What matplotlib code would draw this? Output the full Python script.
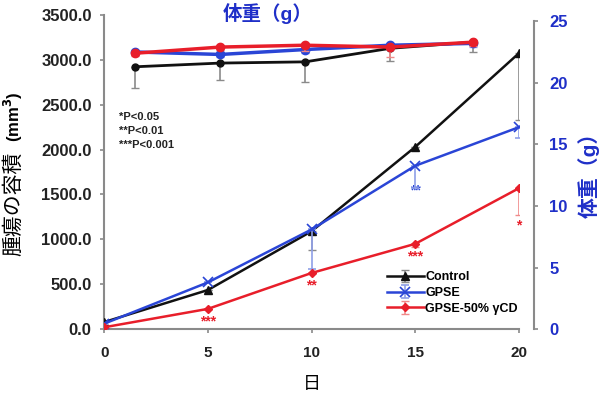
import numpy as np
import matplotlib
matplotlib.use("Agg")
import matplotlib.pyplot as plt

plt.rcParams['font.family'] = ['Liberation Sans', 'Noto Sans CJK JP', 'DejaVu Sans']

# tumor volume (mm3)
days = [0, 5, 10, 15, 20]
control_vol = [78, 435, 1090, 2030, 3075]
gpse_vol = [60, 520, 1110, 1820, 2250]
cd_vol = [20, 225, 625, 950, 1570]
control_err = [0, 0, 210, 0, 750]
gpse_err = [0, 0, 440, 250, 120]
cd_err = [0, 0, 0, 40, 300]

# body weight (g)
wdays = [1.5, 5.6, 9.7, 13.8, 17.8]
control_w = [21.3, 21.6, 21.7, 22.8, 23.3]
gpse_w = [22.5, 22.3, 22.7, 23.05, 23.2]
cd_w = [22.4, 22.9, 23.05, 22.9, 23.3]
control_werr = [1.7, 1.4, 1.6, 1.0, 0.8]
gpse_werr = [0.2, 0.2, 0.3, 0.3, 0.3]
cd_werr = [0.2, 0.2, 0.5, 0.8, 0.3]

# significance marks (label, day, volume position, colour)
marks = [("***", 5, 80, 'red'), ("**", 10, 490, 'red'), ("***", 15, 810, 'red'),
         ("*", 20, 1160, 'red'), ("**", 15, 1540, 'blue')]

BLACK = '#111111'
BLUE = '#2a45d6'
RED = '#e81e2a'
TXTBLUE = '#1f2fc8'
GRAY = '#8a8a8a'

fig = plt.figure(figsize=(6.02, 3.96), dpi=100)
ax = fig.add_axes([0.173, 0.169, 0.689, 0.793])
ax2 = ax.twinx()

def low(err):
    return [err, [0] * len(err)]

# body weight on right axis
ax2.errorbar(wdays, control_w, yerr=low(control_werr), color=BLACK, lw=2, marker='o', ms=5,
             ecolor=GRAY, elinewidth=1.2, capsize=3, zorder=2)
ax2.errorbar(wdays, gpse_w, yerr=low(gpse_werr), color=BLUE, lw=2.5, marker='o', ms=6,
             ecolor='#9aa8ee', elinewidth=1.2, capsize=3, zorder=3)
ax2.errorbar(wdays, cd_w, yerr=low(cd_werr), color=RED, lw=2.5, marker='o', ms=6,
             ecolor='#f08a8a', elinewidth=1.2, capsize=3, zorder=4)

# tumor volume on left axis
ax.errorbar(days, control_vol, yerr=low(control_err), color=BLACK, lw=1.8, marker='^', ms=6,
            ecolor=GRAY, elinewidth=1.2, capsize=3, label='Control', zorder=3)
ax.errorbar(days, gpse_vol, yerr=low(gpse_err), color=BLUE, lw=1.8, marker='x', ms=7,
            mew=1.2, ecolor='#8f9fe8', elinewidth=1.2, capsize=3, label='GPSE', zorder=4)
ax.errorbar(days, cd_vol, yerr=low(cd_err), color=RED, lw=1.8, marker='D', ms=4.5,
            ecolor='#f08a8a', elinewidth=1.2, capsize=3, label='GPSE-50% γCD', zorder=5)

for s, d, v, c in marks:
    ax.text(d, v, s, color=RED if c == 'red' else BLUE, ha='center', va='center',
            fontsize=10, fontweight='bold')

ax.set_zorder(ax2.get_zorder() + 1)
ax.patch.set_visible(False)

ax.set_xlim(0, 20)
ax.set_ylim(0, 3500)
ax2.set_ylim(0, 25.5)
ax.set_xticks([0, 5, 10, 15, 20])
ax.set_yticks(np.arange(0, 3501, 500))
ax.set_yticklabels([f"{v:.1f}" for v in np.arange(0, 3501, 500)])
ax2.set_yticks([0, 5, 10, 15, 20, 25])

for a in (ax, ax2):
    a.spines['top'].set_visible(False)
ax.spines['right'].set_visible(False)
ax2.spines['left'].set_visible(False)
ax2.spines['bottom'].set_visible(False)
ax.spines['left'].set_color(GRAY)
ax.spines['bottom'].set_color(GRAY)
ax2.spines['right'].set_color(GRAY)
ax2.spines['right'].set_position(('outward', 11))
ax2.spines['right'].set_bounds(0, 25)
for sp in ('left', 'bottom'):
    ax.spines[sp].set_linewidth(1.5)
ax2.spines['right'].set_linewidth(1.5)

ax.tick_params(axis='both', colors=GRAY, length=3, width=1.2, labelsize=12)
ax.tick_params(axis='y', labelcolor='#222222', pad=6)
ax.tick_params(axis='x', labelcolor='#222222', pad=9, labelsize=11)
ax2.tick_params(axis='y', colors=GRAY, labelcolor=TXTBLUE, length=3, width=1.2, labelsize=12, pad=8)
for lab in ax.get_xticklabels() + ax.get_yticklabels() + ax2.get_yticklabels():
    lab.set_fontweight('bold')

ax.set_xlabel("日", fontsize=13, labelpad=12)

fig.text(0.022, 0.485, "腫瘍の容積", rotation=90, ha='center', va='center', fontsize=15)
fig.text(0.022, 0.705, "(mm$^\\mathbf{3}$)", rotation=90, ha='center', va='center', fontsize=12,
         fontweight='bold')
fig.text(0.978, 0.57, "体重（g）", rotation=90, ha='center', va='center', fontsize=15,
         color=TXTBLUE, fontweight='bold')
fig.text(0.445, 0.965, "体重（g）", ha='center', va='center', fontsize=14, color=TXTBLUE,
         fontweight='bold')

ax.text(0.035, 0.69, "*P<0.05\n**P<0.01\n***P<0.001", transform=ax.transAxes, fontsize=8,
        fontweight='bold', va='top', linespacing=1.45, color='#222222')

leg = ax.legend(loc='lower right', bbox_to_anchor=(1.025, 0.01), frameon=False,
                handlelength=3.0, handletextpad=0.1, labelspacing=0.3,
                prop={'weight': 'bold', 'size': 9})

fig.savefig("out.png", dpi=100)
